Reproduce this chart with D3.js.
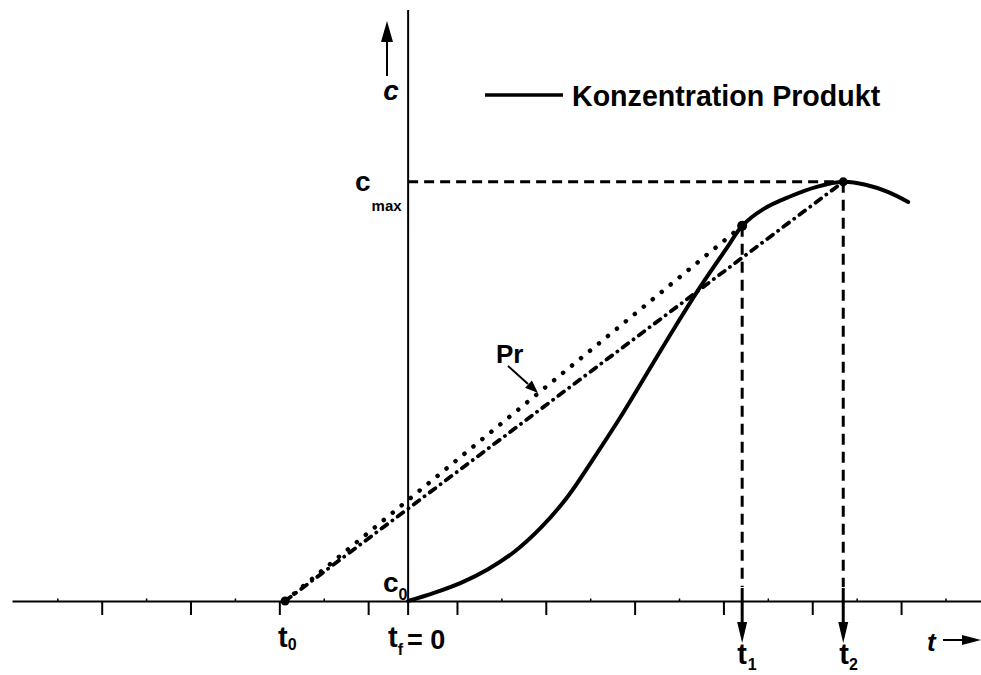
<!DOCTYPE html>
<html>
<head>
<meta charset="utf-8">
<script src="https://cdn.jsdelivr.net/npm/d3@7"></script>
<style>
  body { margin: 0; background: #fff; }
  svg { display: block; background: #fff; }
  text { font-family: "Liberation Sans", Arial, Helvetica, sans-serif; font-weight: bold; fill: #000; }
</style>
</head>
<body>
<svg id="chart" width="981" height="675"></svg>
<script>
// Product concentration c(t); t in tick units (t_f = 0), c relative to c_max
const curveT = [0, 0.3, 0.6, 0.9, 1.2, 1.5, 1.8, 2.1, 2.4, 2.7, 3.0, 3.3, 3.6, 3.761,
                4.0, 4.3, 4.6, 4.899, 5.15, 5.4, 5.63];
const curveC = [0, 0.020, 0.044, 0.076, 0.118, 0.176, 0.250, 0.344, 0.442, 0.547, 0.652, 0.753, 0.846, 0.895,
                0.935, 0.965, 0.988, 1.000, 0.993, 0.976, 0.952];

// Characteristic times and concentrations
const tStart = -1.385;            // t0
const tOne = 3.761, cOne = 0.895; // t1 and c(t1)
const tTwo = 4.899, cMax = 1.0;   // t2 and c_max

// Time axis ticks
const majorTicks = [-3.45, -2.45, -1.45, -0.45, 0.55, 1.55, 2.55, 3.55, 4.55, 5.55];
const minorTicks = [-3.95, -2.95, -1.95, -0.95, 0.05, 1.05, 2.05, 3.05, 4.05, 5.05, 6.05];

const legendLabel = "Konzentration Produkt";

const svg = d3.select("#chart");
const x = d3.scaleLinear().domain([-4.46, 6.45]).range([12, 981]);
const y = d3.scaleLinear().domain([0, 1.41]).range([601, 10]);

const x0 = x(0), y0 = y(0);

// ---- time axis ----
const xAxis = svg.append("g").attr("transform", `translate(0,${y0})`)
  .call(d3.axisBottom(x).tickValues(majorTicks).tickSize(14).tickSizeOuter(0).tickFormat(""));
xAxis.select(".domain").attr("stroke", "#000").attr("stroke-width", 2);
xAxis.selectAll(".tick line").attr("stroke", "#000").attr("stroke-width", 2);

const xMinor = svg.append("g").attr("transform", `translate(0,${y0})`)
  .call(d3.axisTop(x).tickValues(minorTicks).tickSize(2.5).tickFormat(""));
xMinor.select(".domain").remove();
xMinor.selectAll(".tick line").attr("stroke", "#000").attr("stroke-width", 1.5);

// ---- concentration axis ----
svg.append("line")
  .attr("x1", x0).attr("x2", x0)
  .attr("y1", y(1.41)).attr("y2", y0 + 14)
  .attr("stroke", "#000").attr("stroke-width", 2);

// helper: filled arrowhead
function arrowHead(tipX, tipY, dx, dy, len, half) {
  const n = Math.hypot(dx, dy), ux = dx / n, uy = dy / n;
  const bx = tipX - ux * len, by = tipY - uy * len;
  const px = -uy * half, py = ux * half;
  return `M${tipX},${tipY}L${bx + px},${by + py}L${bx - px},${by - py}Z`;
}

// c arrow (upward)
svg.append("line").attr("x1", 387).attr("x2", 387).attr("y1", 76).attr("y2", 38)
  .attr("stroke", "#000").attr("stroke-width", 2);
svg.append("path").attr("d", arrowHead(387, 21, 0, -1, 21, 6)).attr("fill", "#000");
svg.append("text").attr("x", 391).attr("y", 100).attr("text-anchor", "middle")
  .style("font-size", "28px").style("font-style", "italic").text("c");

// t arrow (rightward)
svg.append("line").attr("x1", 943).attr("x2", 965).attr("y1", 640).attr("y2", 640)
  .attr("stroke", "#000").attr("stroke-width", 2);
svg.append("path").attr("d", arrowHead(981, 640, 1, 0, 19, 5)).attr("fill", "#000");
svg.append("text").attr("x", 927).attr("y", 651)
  .style("font-size", "26px").style("font-style", "italic").text("t");

// ---- guide lines ----
svg.append("line")
  .attr("x1", x0).attr("x2", x(tTwo)).attr("y1", y(cMax)).attr("y2", y(cMax))
  .attr("stroke", "#000").attr("stroke-width", 3).attr("stroke-dasharray", "10,6");

[[tOne, cOne], [tTwo, cMax]].forEach(([t, c]) => {
  svg.append("line")
    .attr("x1", x(t)).attr("x2", x(t)).attr("y1", y(c)).attr("y2", y0 - 14)
    .attr("stroke", "#000").attr("stroke-width", 3).attr("stroke-dasharray", "11,7");
  svg.append("line")
    .attr("x1", x(t)).attr("x2", x(t)).attr("y1", y0 - 13).attr("y2", y0 + 24)
    .attr("stroke", "#000").attr("stroke-width", 3);
  svg.append("path").attr("d", arrowHead(x(t), y0 + 42, 0, 1, 21, 5)).attr("fill", "#000");
});

// ---- straight constructions from t0 ----
const straight = d3.line().x(d => x(d[0])).y(d => y(d[1]));

// dotted: t0 -> (t1, c1)
svg.append("path")
  .attr("d", straight([[tStart, 0], [tOne, cOne]]))
  .attr("fill", "none").attr("stroke", "#000").attr("stroke-width", 4.5)
  .attr("stroke-linecap", "round").attr("stroke-dasharray", "0.1,11.5");

// dash-dot: t0 -> (t2, c_max)
svg.append("path")
  .attr("d", straight([[tStart, 0], [tTwo, cMax]]))
  .attr("fill", "none").attr("stroke", "#000").attr("stroke-width", 3.8)
  .attr("stroke-linecap", "round").attr("stroke-dasharray", "7,6.5,0.1,6.5");

// ---- concentration curve ----
const curvePts = curveT.map((t, i) => [t, curveC[i]]);
svg.append("path")
  .attr("d", d3.line().x(d => x(d[0])).y(d => y(d[1])).curve(d3.curveCatmullRom.alpha(0.5))(curvePts))
  .attr("fill", "none").attr("stroke", "#000").attr("stroke-width", 4)
  .attr("stroke-linejoin", "round").attr("stroke-linecap", "round");

// marked points
[[tStart, 0, 4.5], [tOne, cOne, 5], [tTwo, cMax, 4.5]].forEach(([t, c, r]) => {
  svg.append("circle").attr("cx", x(t)).attr("cy", y(c)).attr("r", r).attr("fill", "#000");
});

// ---- legend ----
svg.append("line").attr("x1", 485).attr("x2", 563).attr("y1", 95).attr("y2", 95)
  .attr("stroke", "#000").attr("stroke-width", 3.5);
svg.append("text").attr("x", 572).attr("y", 105.5).style("font-size", "28.6px").text(legendLabel);

// ---- Pr label with arrow ----
svg.append("text").attr("x", 496).attr("y", 363).style("font-size", "26px").text("Pr");
svg.append("line").attr("x1", 508).attr("y1", 366).attr("x2", 528).attr("y2", 384)
  .attr("stroke", "#000").attr("stroke-width", 2);
svg.append("path").attr("d", arrowHead(538, 393, 29, 27, 13, 5)).attr("fill", "#000");

// ---- symbol labels ----
function subLabel(px, py, main, sub, mainSize, subSize, subDx, subDy) {
  const g = svg.append("text").attr("x", px).attr("y", py);
  g.append("tspan").style("font-size", mainSize + "px").text(main);
  g.append("tspan").attr("dx", subDx).attr("dy", subDy).style("font-size", subSize + "px").text(sub);
  return g;
}

subLabel(355, 191, "c", "max", 28, 15, 1, 20);
subLabel(383, 592, "c", "0", 28, 16, 0, 8);
subLabel(x(tStart) - 7, 647, "t", "0", 29, 16, 0, 3);
subLabel(x(tOne) - 5, 664, "t", "1", 29, 16, 1, 6);
subLabel(x(tTwo) - 4, 664, "t", "2", 29, 16, 0, 6);

const tf = svg.append("text").attr("x", 388).attr("y", 647);
tf.append("tspan").style("font-size", "29px").text("t");
tf.append("tspan").attr("dy", 8).style("font-size", "16px").text("f");
tf.append("tspan").attr("dx", 4).attr("dy", -6).style("font-size", "27px").text("= 0");
</script>
</body>
</html>
